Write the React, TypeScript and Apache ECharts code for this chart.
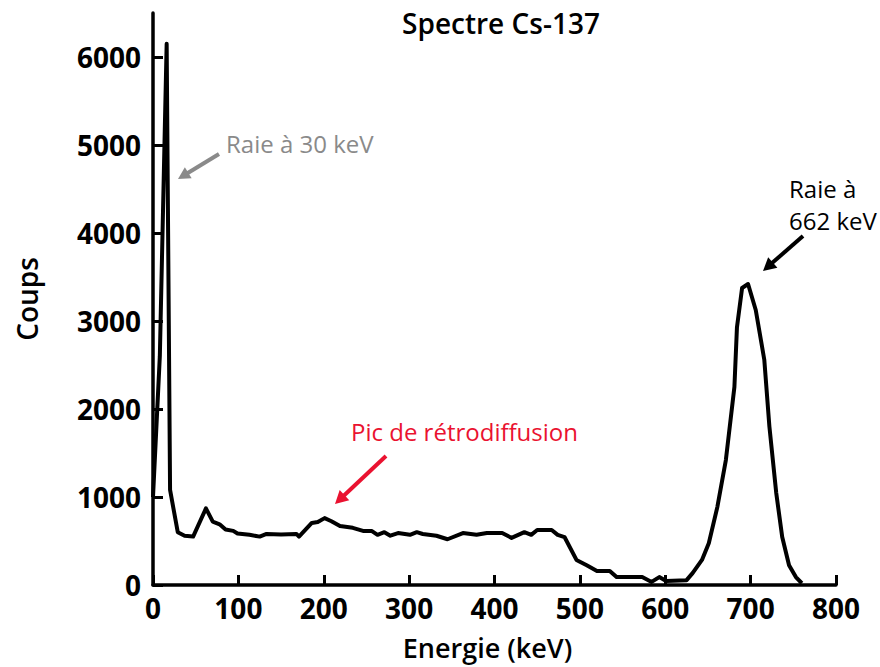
import React, { useEffect, useRef } from "react";
import * as echarts from "echarts";

const energy = [0, 8, 16, 20, 29, 37, 47, 62, 70, 78, 85, 94, 99, 113, 125, 133, 150, 168, 171, 186, 193, 201, 209, 219, 234, 246, 256, 263, 271, 278, 287, 301, 309, 316, 332, 345, 363, 379, 391, 409, 420, 435, 443, 450, 467, 474, 482, 496, 508, 520, 535, 543, 573, 584, 593, 601, 625, 632, 643, 651, 661, 671, 681, 684, 690, 697, 706, 716, 722, 730, 737, 745, 753, 760];
const counts = [1000, 2600, 6150, 1080, 600, 560, 550, 870, 720, 690, 630, 615, 585, 570, 550, 580, 575, 580, 550, 705, 715, 760, 725, 670, 650, 615, 615, 570, 600, 560, 590, 570, 600, 580, 560, 520, 590, 570, 590, 590, 535, 600, 570, 625, 625, 570, 545, 285, 225, 160, 160, 90, 90, 35, 90, 45, 55, 135, 285, 475, 885, 1420, 2250, 2930, 3375, 3420, 3125, 2560, 1800, 1045, 545, 225, 90, 20];

const xTicks = [0, 100, 200, 300, 400, 500, 600, 700, 800];
const yTicks = [0, 1000, 2000, 3000, 4000, 5000, 6000];

const title = "Spectre Cs-137";
const xName = "Energie (keV)";
const yName = "Coups";
const noteGray = "Raie à 30 keV";
const noteRed = "Pic de rétrodiffusion";
const noteBlack = ["Raie à", "662 keV"];

const FONT = "'Open Sans', 'Noto Sans', sans-serif";

function arrow(x1: number, y1: number, x2: number, y2: number, color: string, w: number, headLen: number, headW: number) {
  const dx = x2 - x1;
  const dy = y2 - y1;
  const len = Math.sqrt(dx * dx + dy * dy);
  const ux = dx / len;
  const uy = dy / len;
  const bx = x2 - ux * headLen;
  const by = y2 - uy * headLen;
  const px = -uy;
  const py = ux;
  return [
    { type: "line", shape: { x1, y1, x2: bx + ux, y2: by + uy }, style: { stroke: color, lineWidth: w } },
    {
      type: "polygon",
      shape: { points: [[x2, y2], [bx + px * headW / 2, by + py * headW / 2], [bx - px * headW / 2, by - py * headW / 2]] },
      style: { fill: color },
    },
  ];
}

function txt(x: number, y: number, text: string, color: string, size: number, weight: any, align = "left") {
  return {
    type: "text",
    x,
    y,
    style: {
      text,
      fill: color,
      fontSize: size,
      fontWeight: weight,
      fontFamily: FONT,
      align,
      verticalAlign: "middle",
      textAlign: align,
      textVerticalAlign: "middle",
    },
  };
}

export default function App() {
  const ref = useRef<HTMLDivElement>(null);
  useEffect(() => {
    if (!ref.current) return;
    const chart = echarts.init(ref.current, null, { renderer: "svg" });
    const data = energy.map((e, i) => [e, counts[i]]);
    chart.setOption({
      animation: false,
      backgroundColor: "#ffffff",
      grid: { left: 153, right: 44, top: 13, bottom: 82, containLabel: false, outerBoundsMode: "none" },
      xAxis: {
        type: "value",
        min: 0,
        max: 800,
        interval: 100,
        name: xName,
        nameLocation: "middle",
        nameGap: 49,
        nameTextStyle: { fontFamily: FONT, fontSize: 27, fontWeight: 600, color: "#000", padding: [0, 14, 0, 0] },
        axisLine: { lineStyle: { color: "#000", width: 3.5 } },
        axisTick: { inside: true, length: 10, lineStyle: { color: "#000", width: 3 }, customValues: xTicks },
        axisLabel: { customValues: xTicks, fontFamily: FONT, fontSize: 28, fontWeight: "bold", color: "#000", margin: 9 },
        splitLine: { show: false },
      },
      yAxis: {
        type: "value",
        min: 0,
        max: 6500,
        interval: 1000,
        name: yName,
        nameLocation: "middle",
        nameGap: 112,
        nameRotate: 90,
        nameTextStyle: { fontFamily: FONT, fontSize: 28, fontWeight: 600, color: "#000" },
        axisLine: { show: true, lineStyle: { color: "#000", width: 3.5 } },
        axisTick: { show: true, inside: true, length: 10, lineStyle: { color: "#000", width: 3 }, customValues: yTicks },
        axisLabel: {
          customValues: yTicks,
          formatter: (v: number) => String(v),
          fontFamily: FONT,
          fontSize: 28,
          fontWeight: "bold",
          color: "#000",
          margin: 12,
        },
        splitLine: { show: false },
      },
      graphic: [
        txt(501, 23, title, "#000", 28, 600, "center"),
        txt(226, 143, noteGray, "#8a8a8a", 24, "normal"),
        txt(351, 431, noteRed, "#ea1230", 24, "normal"),
        txt(789, 188, noteBlack[0], "#000", 24, "normal"),
        txt(789, 220, noteBlack[1], "#000", 24, "normal"),
        ...arrow(219, 154, 178, 179, "#8a8a8a", 4, 12, 13),
        ...arrow(386, 456, 335, 504, "#ea1230", 4, 13, 14),
        ...arrow(803, 236, 763, 271, "#000", 4, 13, 14),
      ],
      series: [
        {
          type: "line",
          data,
          showSymbol: false,
          symbol: "none",
          lineStyle: { color: "#000", width: 4, join: "round" },
          z: 3,
        },
      ],
    });
    return () => chart.dispose();
  }, []);
  return <div ref={ref} style={{ position: "fixed", left: 0, top: 0, width: 880, height: 667 }} />;
}
